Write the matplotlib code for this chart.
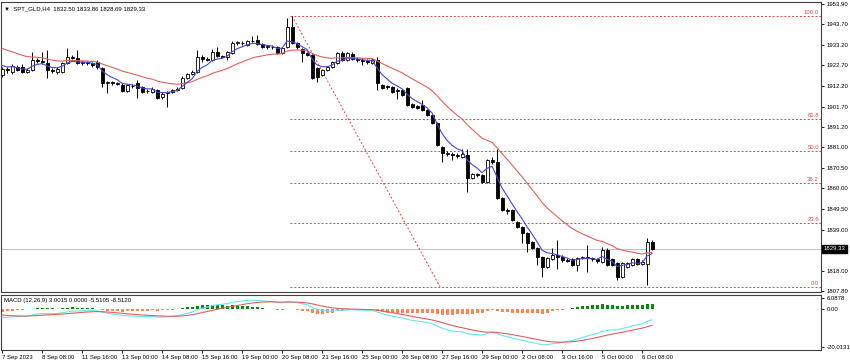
import numpy as np
import matplotlib
matplotlib.use("Agg")
import matplotlib.pyplot as plt
import matplotlib.transforms as mtransforms

plt.rcParams["font.family"] = ["Liberation Sans", "DejaVu Sans"]

# ---- candle data (SPT_GLD, H4) ----
opens = [1917.7, 1920.8, 1919.3, 1922.0, 1921.8, 1919.5, 1920.3, 1925.4, 1924.9, 1923.9,
         1920.3, 1919.3, 1919.3, 1923.9, 1926.9, 1926.4, 1923.9, 1924.2, 1923.9, 1924.4,
         1921.3, 1913.7, 1913.9, 1913.7, 1912.7, 1909.8, 1912.2, 1913.7, 1911.6, 1909.4,
         1909.1, 1910.1, 1906.5, 1908.6, 1909.1, 1910.1, 1911.1, 1916.2, 1918.3, 1919.3,
         1926.9, 1925.9, 1925.4, 1929.5, 1927.4, 1927.0, 1929.0, 1934.0, 1934.2, 1933.0,
         1935.0, 1935.6, 1933.5, 1932.0, 1932.2, 1931.8, 1929.0, 1932.0, 1942.2, 1934.0,
         1931.0, 1929.0, 1928.0, 1921.3, 1917.7, 1920.3, 1921.8, 1924.0, 1929.0, 1925.4,
         1928.5, 1925.9, 1925.4, 1924.9, 1923.9, 1925.4, 1912.7, 1911.9, 1911.6, 1910.1,
         1910.1, 1911.1, 1903.0, 1901.8, 1902.3, 1899.9, 1897.4, 1893.3, 1881.1, 1878.0,
         1877.5, 1877.0, 1875.8, 1877.0, 1865.3, 1867.4, 1866.9, 1863.3, 1874.5, 1873.5,
         1855.1, 1849.0, 1849.0, 1842.9, 1840.4, 1837.3, 1832.7, 1829.6, 1825.1, 1820.0,
         1824.1, 1826.1, 1825.1, 1823.5, 1824.0, 1821.0, 1824.6, 1825.1, 1824.6, 1824.0,
         1822.5, 1828.6, 1824.0, 1822.0, 1814.9, 1820.0, 1821.0, 1824.0, 1821.5, 1821.5,
         1832.50]
highs = [1921.8, 1922.0, 1923.5, 1923.0, 1923.5, 1921.5, 1929.5, 1926.4, 1929.5, 1930.5,
         1921.3, 1922.0, 1924.4, 1931.5, 1927.9, 1930.5, 1925.0, 1925.0, 1924.5, 1925.4,
         1921.8, 1914.5, 1914.7, 1914.2, 1913.5, 1913.2, 1913.2, 1915.2, 1912.2, 1910.6,
         1911.6, 1910.6, 1909.0, 1909.6, 1910.6, 1911.6, 1917.2, 1918.8, 1920.3, 1930.5,
         1928.0, 1926.9, 1931.0, 1932.0, 1928.0, 1929.8, 1935.0, 1935.0, 1935.2, 1935.6,
         1937.6, 1938.1, 1934.0, 1933.0, 1932.8, 1932.5, 1932.0, 1946.8, 1947.8, 1934.5,
         1931.5, 1929.5, 1928.5, 1922.0, 1921.0, 1922.5, 1925.0, 1929.5, 1929.8, 1929.5,
         1929.5, 1926.9, 1926.4, 1925.9, 1926.4, 1926.9, 1913.2, 1912.4, 1912.2, 1911.1,
         1910.6, 1911.6, 1903.5, 1902.5, 1905.0, 1900.4, 1897.9, 1893.8, 1881.6, 1879.0,
         1878.5, 1878.0, 1880.1, 1880.1, 1868.0, 1868.0, 1867.5, 1875.0, 1876.0, 1880.1,
         1855.6, 1850.0, 1849.5, 1843.4, 1840.9, 1837.8, 1833.2, 1830.1, 1825.6, 1825.1,
         1829.6, 1833.7, 1826.1, 1824.5, 1824.5, 1825.1, 1825.6, 1831.2, 1825.0, 1824.5,
         1830.0, 1829.6, 1824.5, 1822.5, 1822.5, 1822.5, 1824.6, 1824.6, 1823.5, 1834.8,
         1833.86]
lows = [1916.7, 1918.8, 1918.5, 1919.8, 1918.8, 1918.8, 1919.8, 1923.9, 1923.5, 1916.2,
        1918.8, 1918.5, 1918.8, 1923.4, 1925.9, 1923.4, 1923.0, 1922.8, 1922.0, 1921.0,
        1911.6, 1908.6, 1912.8, 1912.5, 1909.0, 1909.1, 1911.1, 1906.0, 1908.6, 1908.6,
        1908.6, 1905.5, 1905.5, 1901.5, 1908.6, 1909.6, 1910.6, 1915.7, 1917.7, 1918.8,
        1924.4, 1924.9, 1924.9, 1927.0, 1926.4, 1925.4, 1928.5, 1933.2, 1933.2, 1932.5,
        1934.5, 1933.0, 1931.5, 1931.0, 1931.0, 1928.5, 1928.5, 1931.5, 1933.5, 1931.0,
        1924.4, 1927.4, 1915.7, 1914.2, 1917.0, 1920.0, 1921.3, 1923.5, 1925.0, 1925.0,
        1925.4, 1924.4, 1922.8, 1923.4, 1923.4, 1910.1, 1910.6, 1910.6, 1908.6, 1905.5,
        1907.1, 1902.0, 1901.0, 1900.5, 1899.5, 1897.0, 1892.8, 1881.6, 1873.5, 1876.5,
        1874.5, 1875.5, 1875.3, 1858.2, 1864.8, 1866.0, 1862.8, 1862.8, 1872.5, 1854.5,
        1848.5, 1847.0, 1843.4, 1839.9, 1832.2, 1827.6, 1829.0, 1821.0, 1814.9, 1819.5,
        1823.5, 1819.0, 1822.5, 1822.5, 1820.5, 1818.0, 1824.0, 1817.5, 1823.0, 1822.0,
        1822.0, 1820.5, 1820.5, 1813.4, 1814.4, 1819.5, 1820.5, 1821.0, 1821.0, 1810.9,
        1828.69]
closes = [1920.8, 1920.3, 1922.3, 1920.5, 1919.3, 1920.3, 1925.4, 1924.9, 1924.4, 1920.3,
          1919.8, 1921.0, 1923.9, 1926.9, 1926.4, 1923.9, 1924.2, 1923.9, 1922.8, 1921.8,
          1913.7, 1913.9, 1913.7, 1913.2, 1909.6, 1912.4, 1911.9, 1911.1, 1909.1, 1909.8,
          1910.6, 1906.0, 1908.1, 1908.9, 1910.1, 1910.8, 1916.2, 1918.0, 1919.3, 1926.9,
          1925.9, 1925.4, 1929.5, 1927.4, 1927.0, 1929.3, 1934.0, 1934.3, 1934.0, 1935.0,
          1935.3, 1933.5, 1932.0, 1932.2, 1931.8, 1929.0, 1931.5, 1942.2, 1934.0, 1932.0,
          1929.0, 1928.0, 1916.2, 1916.7, 1920.3, 1921.8, 1924.4, 1929.0, 1925.4, 1929.0,
          1925.9, 1925.4, 1924.9, 1924.4, 1925.4, 1913.7, 1911.1, 1911.4, 1909.1, 1909.6,
          1907.6, 1902.5, 1901.5, 1901.2, 1899.9, 1897.4, 1893.3, 1882.1, 1878.0, 1877.5,
          1877.0, 1876.5, 1877.3, 1865.3, 1867.4, 1866.9, 1863.3, 1874.5, 1873.5, 1855.1,
          1849.0, 1848.5, 1843.9, 1840.4, 1837.3, 1832.2, 1829.6, 1825.1, 1820.0, 1824.6,
          1826.1, 1825.1, 1823.5, 1823.2, 1821.0, 1824.6, 1825.1, 1824.6, 1824.0, 1823.0,
          1828.6, 1821.0, 1821.0, 1814.9, 1822.0, 1822.0, 1824.0, 1821.5, 1822.5, 1832.5,
          1829.33]

time_labels = ["7 Sep 2023", "8 Sep 08:00", "11 Sep 16:00", "13 Sep 00:00", "14 Sep 08:00",
               "15 Sep 16:00", "19 Sep 00:00", "20 Sep 08:00", "21 Sep 16:00", "25 Sep 00:00",
               "26 Sep 08:00", "27 Sep 16:00", "29 Sep 00:00", "2 Oct 08:00", "3 Oct 16:00",
               "5 Oct 00:00", "6 Oct 08:00"]
price_ticks = [1953.90, 1943.70, 1933.20, 1922.70, 1912.20, 1901.70, 1891.20, 1881.00,
               1870.50, 1860.00, 1849.50, 1839.00, 1818.00, 1807.80]
macd_ticks = [6.0878, 0.0, -20.0131]
macd_tick_labels = ["6.0878", "0.00", "-20.0131"]

# fibonacci retracement (high on 20 Sep down to the Oct low)
fib_high = 1947.8
fib_low = 1810.0
fib_ratios = [1.0, 0.618, 0.5, 0.382, 0.236, 0.0]
fib_names = ["100.0", "61.8", "50.0", "38.2", "23.6", "0.0"]

last_price = 1829.33

# starting values of the indicators at the left edge
fast_ma_start = 1923.5
slow_ma_start = 1932.5
ema12_start = 1923.0
ema26_start = 1927.6
signal_start = -2.6


def ema(values, period, start):
    a = 2.0 / (period + 1)
    out = []
    prev = start
    for v in values:
        prev = prev + a * (v - prev)
        out.append(prev)
    return np.array(out)


o = np.array(opens)
h = np.array(highs)
l = np.array(lows)
c = np.array(closes)
idx = np.arange(len(c))

fast_ma = ema(c, 5, fast_ma_start)
slow_ma = ema(c, 20, slow_ma_start)
macd_line = ema(c, 12, ema12_start) - ema(c, 26, ema26_start)
signal_line = ema(macd_line, 9, signal_start)
hist = macd_line - signal_line

W, H = 850, 364
fig = plt.figure(figsize=(W / 100, H / 100), dpi=100)
fig.patch.set_facecolor("white")

x_left, x_right = -0.2, 163.8
ax = fig.add_axes([1 / W, 1 - 292 / H, 820 / W, 290.5 / H])
ax2 = fig.add_axes([1 / W, 1 - 350 / H, 820 / W, 55.5 / H])

fs = 4.3
fib_red = "#e04848"

# ---- candles ----
up = c >= o
body_lo = np.minimum(o, c)
body_h = np.maximum(np.abs(c - o), 0.25)
ax.vlines(idx, l, h, color="black", lw=0.7, zorder=3)
ax.bar(idx, body_h, bottom=body_lo, width=0.6,
       color=np.where(up, "white", "black"), edgecolor="black", lw=0.6, zorder=4)

# moving averages
ax.plot(idx, slow_ma, color="#e06060", lw=0.8, zorder=5)
ax.plot(idx, fast_ma, color="#4646d8", lw=0.8, zorder=5)

# fibonacci levels
fib_start = 57.6
for r, name in zip(fib_ratios, fib_names):
    lvl = fib_low + r * (fib_high - fib_low)
    ax.hlines(lvl, fib_start, x_right, colors=fib_red, linestyles=(0, (2, 2)), lw=0.7, zorder=2)
    ax.text(x_right - 0.4, lvl + 0.5, name, color=fib_red, fontsize=fs, ha="right", va="bottom")
ax.plot([58, 87.6], [fib_high, fib_low], color=fib_red, ls=(0, (2, 2)), lw=0.7, zorder=2)

# current price line and label
ax.axhline(last_price, color="#c0c0c0", lw=0.7, zorder=1)
trans = mtransforms.blended_transform_factory(ax.transAxes, ax.transData)
ax.text(1.003, last_price, f"{last_price:.2f}", transform=trans, color="white", fontsize=fs,
        va="center", ha="left",
        bbox=dict(facecolor="black", edgecolor="black", boxstyle="square,pad=0.25"))

ax.text(0.004, 0.985, "\u25bc  SPT_GLD,H4  1832.50 1833.86 1828.69 1829.33",
        transform=ax.transAxes, fontsize=fs, va="top", ha="left")

ax.set_xlim(x_left, x_right)
ax.set_ylim(1807.3, 1955.15)
ax.set_xticks([])
ax.yaxis.tick_right()
ax.set_yticks(price_ticks)
ax.set_yticklabels([f"{p:.2f}" for p in price_ticks])
ax.tick_params(axis="y", labelsize=fs, length=2.5, width=0.6, pad=1.5, direction="out")

# ---- MACD window ----
hist_colors = np.where(hist >= 0, "#0a8a0a", "#f4885a")
ax2.bar(idx, hist, width=0.6, color=hist_colors, lw=0, zorder=2)
ax2.plot(idx, macd_line, color="#66e6f2", lw=0.8, zorder=3)
ax2.plot(idx, signal_line, color="#e06060", lw=0.8, zorder=3)
ax2.text(0.004, 0.93, "MACD (12,26,9) 3.0015 0.0000 -5.5105 -8.5120",
         transform=ax2.transAxes, fontsize=fs, va="top", ha="left")

ax2.set_xlim(x_left, x_right)
ax2.set_ylim(-21.63, 7.94)
ax2.yaxis.tick_right()
ax2.set_yticks(macd_ticks)
ax2.set_yticklabels(macd_tick_labels)
ax2.tick_params(axis="y", labelsize=fs, length=2.5, width=0.6, pad=1.5, direction="out")
ax2.set_xticks(np.arange(len(time_labels)) * 8)
ax2.set_xticklabels(time_labels)
ax2.tick_params(axis="x", labelsize=fs, length=2, width=0.6, pad=1.5, direction="out")
for t in ax2.get_xticklabels():
    t.set_ha("left")

for a in (ax, ax2):
    for s in a.spines.values():
        s.set_color("#404040")
        s.set_linewidth(0.8)
    a.set_facecolor("white")

fig.savefig("out.png", dpi=100, facecolor="white")
